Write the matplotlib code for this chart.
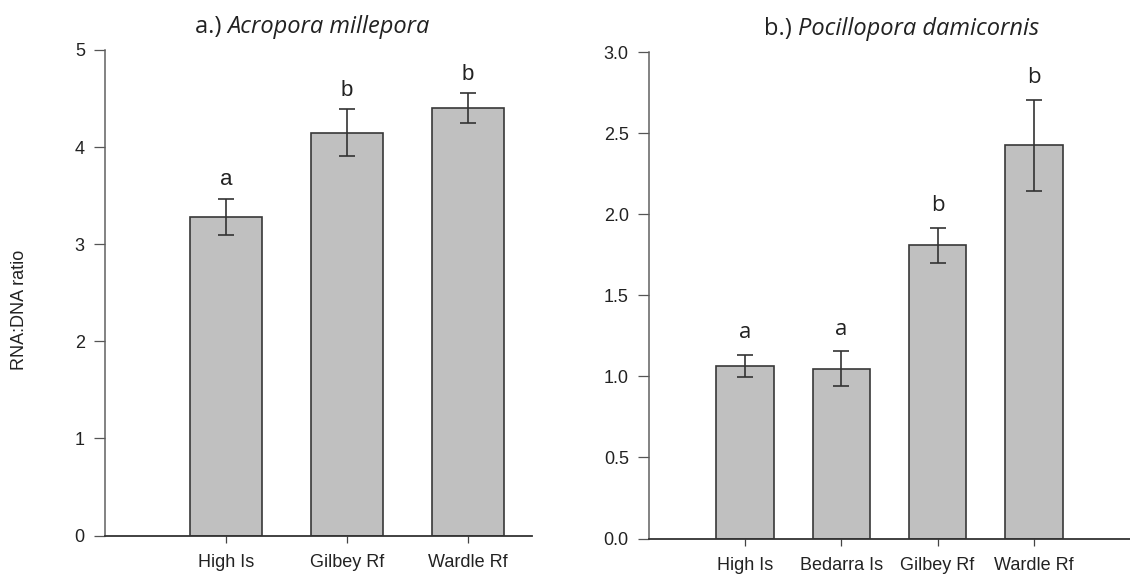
import matplotlib
matplotlib.use("Agg")
import matplotlib.pyplot as plt
from matplotlib.ticker import FormatStrFormatter

# Acropora millepora
sites_a = ["High Is", "Gilbey Rf", "Wardle Rf"]
ratio_a = [3.28, 4.15, 4.40]
se_a = [0.19, 0.24, 0.155]
groups_a = ["a", "b", "b"]

# Pocillopora damicornis
sites_b = ["High Is", "Bedarra Is", "Gilbey Rf", "Wardle Rf"]
ratio_b = [1.065, 1.047, 1.81, 2.425]
se_b = [0.07, 0.108, 0.108, 0.28]
groups_b = ["a", "a", "b", "b"]

TEXT = "#222222"
BAR = "#c0c0c0"
EDGE = "#383838"
SANS = ["Liberation Sans", "DejaVu Sans"]
HUMANIST = ["Open Sans", "DejaVu Sans"]

plt.rcParams["font.family"] = SANS
plt.rcParams["text.color"] = TEXT
plt.rcParams["axes.labelcolor"] = TEXT
plt.rcParams["xtick.color"] = "#444444"
plt.rcParams["ytick.color"] = "#555555"
plt.rcParams["xtick.labelcolor"] = TEXT
plt.rcParams["ytick.labelcolor"] = TEXT

fig = plt.figure(figsize=(11.3, 5.76), dpi=100)
ax_a = fig.add_axes([0.0929, 0.0703, 0.3779, 0.8429])
ax_b = fig.add_axes([0.5743, 0.0651, 0.4257, 0.8441])


def draw_panel(ax, sites, values, errors, groups, ymax, yticks, letter_font, letter_offset):
    x = list(range(len(sites)))
    ax.bar(x, values, width=0.6, color=BAR, edgecolor=EDGE, linewidth=1.2, zorder=2)
    ax.errorbar(x, values, yerr=errors, fmt="none", ecolor="#333333",
                elinewidth=1.2, capsize=5.5, capthick=1.2, zorder=3)
    for xi, v, e, g in zip(x, values, errors, groups):
        ax.annotate(g, (xi, v + e), xytext=(0, letter_offset), textcoords="offset points",
                    ha="center", va="baseline", fontsize=16, family=letter_font, color=TEXT)
    ax.set_ylim(0, ymax)
    ax.set_yticks(yticks)
    ax.set_xticks(x)
    ax.set_xticklabels(sites, fontsize=13)
    ax.spines["top"].set_visible(False)
    ax.spines["right"].set_visible(False)
    ax.spines["left"].set_color("#606060")
    ax.spines["left"].set_linewidth(1.1)
    ax.spines["bottom"].set_color("#333333")
    ax.spines["bottom"].set_linewidth(1.3)
    ax.tick_params(axis="y", direction="out", length=8, width=0.9, pad=6.5, labelsize=13)
    ax.tick_params(axis="x", direction="out", length=5, width=0.9, pad=8)


draw_panel(ax_a, sites_a, ratio_a, se_a, groups_a, 5, [0, 1, 2, 3, 4, 5], SANS, 9.5)
ax_a.set_xlim(-1, 2.53)
ax_a.yaxis.set_major_formatter(FormatStrFormatter("%d"))

draw_panel(ax_b, sites_b, ratio_b, se_b, groups_b, 3.0, [0, 0.5, 1.0, 1.5, 2.0, 2.5, 3.0],
           HUMANIST, 12)
ax_b.set_xlim(-1, 4)
ax_b.yaxis.set_major_formatter(FormatStrFormatter("%.1f"))

# Panel titles: upright prefix followed by the italic species name
fig.canvas.draw()
renderer = fig.canvas.get_renderer()
for cx, base, prefix, species in [(312, 33, "a.) ", "Acropora millepora"),
                                  (902, 35, "b.) ", "Pocillopora damicornis")]:
    t1 = fig.text(0, 0, prefix, fontsize=17, family=HUMANIST, va="baseline")
    t2 = fig.text(0, 0, species, fontsize=17, family=HUMANIST, style="italic", va="baseline")
    w1 = t1.get_window_extent(renderer).width
    w2 = t2.get_window_extent(renderer).width
    left = cx - (w1 + w2) / 2
    yb = 1 - base / 576
    t1.set_position((left / 1130, yb))
    t2.set_position(((left + w1) / 1130, yb))

fig.text(20 / 1130, 1 - 310 / 576, "RNA:DNA ratio", rotation=90, fontsize=13,
         ha="center", va="center", color=TEXT)

fig.savefig("out.png", dpi=100, facecolor="white")
